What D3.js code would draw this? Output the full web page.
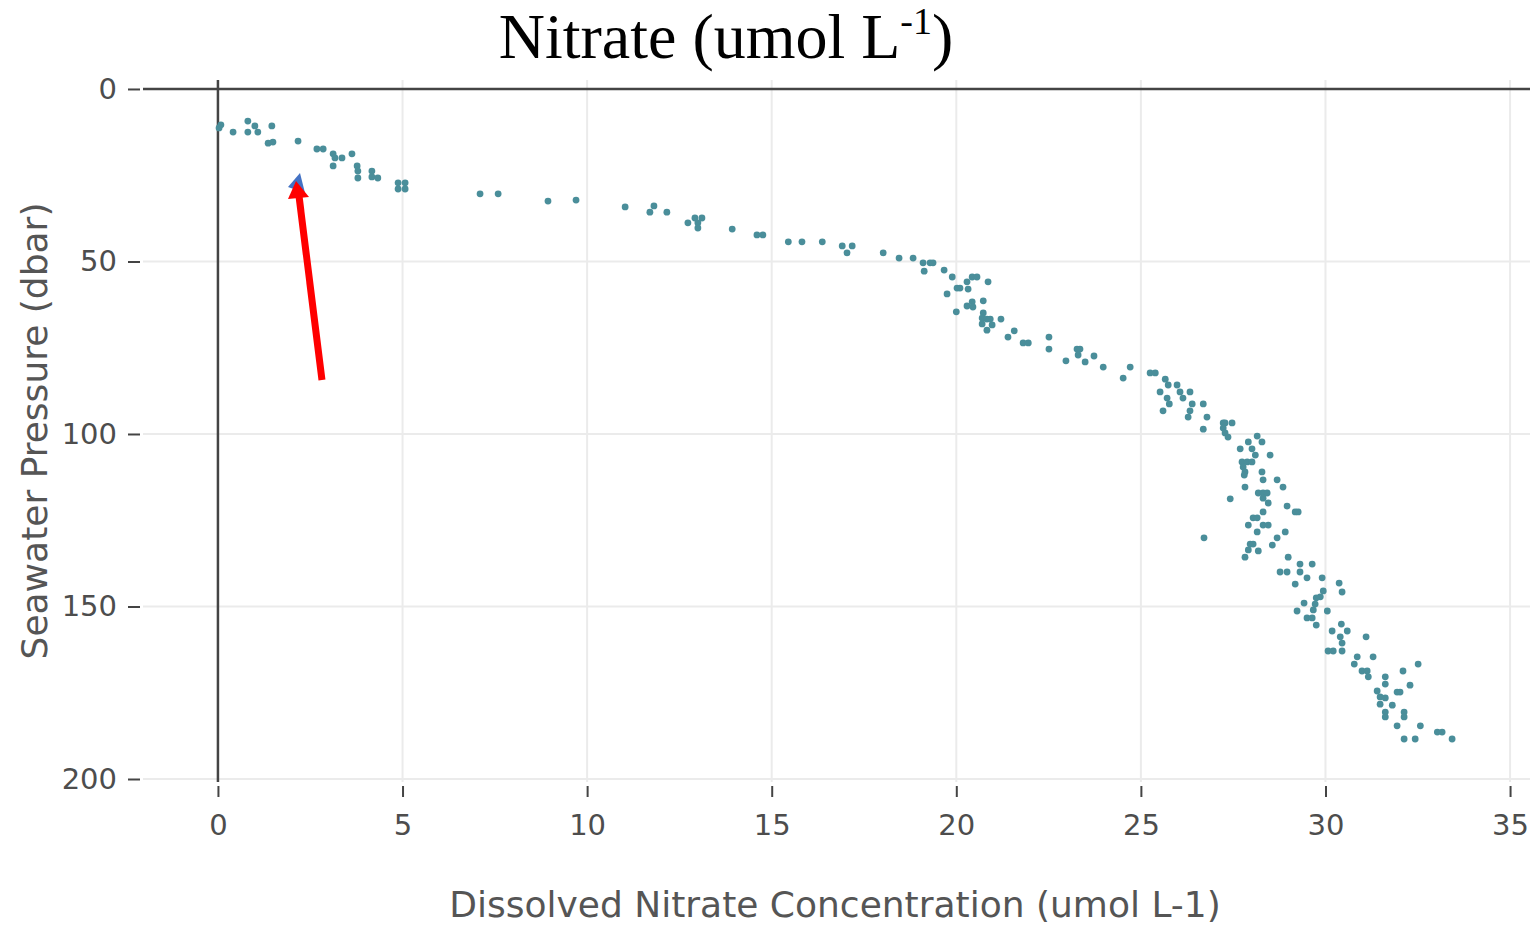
<!DOCTYPE html>
<html>
<head>
<meta charset="utf-8">
<script src="https://cdn.jsdelivr.net/npm/d3@7"></script>
<style>
html,body{margin:0;padding:0;background:#fff;}
svg{display:block;}
</style>
</head>
<body>
<svg id="chart" width="1538" height="927"></svg>
<script>
// Dissolved nitrate (umol L-1)
const nitrate = [
0.03,0.08,0.41,0.81,0.81,1.00,1.08,1.46,1.36,1.49,2.17,2.68,2.85,3.12,3.17,3.36,3.12,3.63,3.77,3.79,3.79,4.17,4.17,4.33,4.88,5.07,4.88,5.07,
7.10,7.59,8.94,9.70,11.03,11.70,11.81,12.16,12.73,12.92,13.11,13.00,13.00,13.93,14.60,14.76,15.45,15.82,16.37,16.91,17.18,17.04,
18.02,18.45,18.83,19.10,19.29,19.37,19.13,19.67,19.89,20.29,20.43,20.56,20.86,20.02,20.10,20.32,19.75,20.29,20.43,20.45,20.73,20.00,20.73,20.70,20.83,20.92,20.70,20.97,20.83,21.21,21.57,21.40,21.81,21.95,22.51,22.51,23.27,23.35,23.30,23.73,22.97,23.49,23.98,24.71,24.52,25.25,25.39,25.66,
25.74,25.98,25.52,26.06,26.33,25.71,26.14,25.77,26.39,26.69,25.60,26.33,26.28,26.79,26.69,
27.23,27.47,27.28,27.23,27.28,27.36,
28.15,28.28,27.91,27.69,28.01,28.10,28.50,
27.74,27.88,28.01,27.77,27.82,27.80,
28.28,28.31,28.69,28.85,27.82,
28.18,28.31,28.42,28.31,28.45,27.42,28.96,29.18,29.26,28.31,
28.04,28.15,27.91,28.31,28.45,28.15,28.91,
26.71,
27.96,28.04,27.91,28.18,28.56,28.69,27.82,
28.99,29.31,29.64,28.77,28.96,29.31,29.50,29.91,29.18,30.37,30.45,29.94,29.86,29.75,
29.42,29.72,29.67,29.23,30.05,29.50,29.64,29.75,
30.43,30.18,30.59,30.40,31.10,30.45,30.07,30.21,30.45,
30.86,31.29,30.78,30.99,31.13,31.16,31.62,31.62,32.10,32.51,
31.40,31.48,31.62,31.94,32.02,32.29,31.48,31.81,31.62,31.62,32.13,32.13,31.94,32.57,33.03,33.16,32.13,32.43,33.43
];
// Seawater pressure (dbar)
const pressure = [
11.3,10.4,12.5,9.3,12.5,10.7,12.5,10.7,15.7,15.4,15.1,17.4,17.4,18.8,20.0,20.0,22.3,18.8,22.3,23.8,25.8,23.8,25.5,25.8,27.2,27.2,29.0,29.0,
30.4,30.4,32.5,32.2,34.2,35.7,33.9,35.7,38.8,37.4,37.4,38.8,40.3,40.6,42.3,42.3,44.3,44.3,44.3,45.5,45.5,47.5,
47.5,49.0,49.0,50.4,50.4,50.4,52.8,52.5,54.5,55.9,54.5,54.5,55.9,57.7,57.7,58.0,59.4,62.9,61.7,63.2,61.4,64.6,64.9,66.4,66.7,66.7,68.1,68.4,69.9,66.7,70.1,71.9,73.6,73.6,71.9,75.4,75.4,75.4,77.1,77.4,78.8,79.1,80.6,80.6,83.8,82.3,82.3,84.1,
85.8,85.8,87.8,87.8,87.8,89.6,89.6,91.3,91.3,91.3,93.3,93.3,95.1,95.1,98.6,
96.8,96.8,96.8,98.3,99.7,100.9,
100.6,102.3,102.3,104.3,104.3,106.1,106.1,
108.1,108.1,108.1,109.6,111.0,111.9,
111.0,113.3,113.3,115.4,115.4,
117.1,117.1,117.1,118.6,120.0,118.8,120.9,122.6,122.6,122.6,
124.3,124.3,126.4,126.4,126.4,128.4,128.4,
130.1,
131.9,131.9,133.6,133.9,132.2,130.1,135.7,
135.7,137.7,137.7,140.0,140.0,140.0,141.7,141.7,143.5,143.2,145.8,145.5,147.2,147.5,
149.0,149.3,151.0,151.3,151.3,153.3,153.3,155.4,
155.1,157.1,157.1,158.8,158.8,160.6,162.9,162.9,162.9,
164.6,164.6,166.7,168.7,168.7,170.4,170.4,172.5,168.7,166.7,
174.5,176.2,176.5,174.8,174.8,172.8,178.3,178.6,180.6,182.0,180.6,182.0,184.6,184.6,186.4,186.4,188.4,188.4,188.4
];
const xTicks = [0,5,10,15,20,25,30,35];
const yTicks = [0,50,100,150,200];
const chartTitle = "Nitrate (umol L";
const chartTitleSup = "-1";
const xTitle = "Dissolved Nitrate Concentration (umol L-1)";
const yTitle = "Seawater Pressure (dbar)";

const svg = d3.select("#chart");
const plot = {left:143, right:1530, top:80, bottom:782};
const x = d3.scaleLinear().domain([-2.03, 35.54]).range([plot.left, plot.right]);
const y = d3.scaleLinear().domain([-2.6, 200.87]).range([plot.top, plot.bottom]);

const axisColor = "#444";
const labelColor = "#4d4d4d";
const gridColor = "#ebebeb";
const tickFont = "DejaVu Sans, Verdana, sans-serif";

// gridlines
const grid = svg.append("g");
grid.selectAll("line.gx").data(xTicks.filter(d=>d!==0)).join("line")
  .attr("x1", d=>x(d)).attr("x2", d=>x(d))
  .attr("y1", plot.top).attr("y2", plot.bottom)
  .attr("stroke", gridColor).attr("stroke-width", 2);
grid.selectAll("line.gy").data(yTicks.filter(d=>d!==0)).join("line")
  .attr("x1", plot.left).attr("x2", plot.right)
  .attr("y1", d=>y(d)).attr("y2", d=>y(d))
  .attr("stroke", gridColor).attr("stroke-width", 2);

// zero lines
svg.append("line").attr("x1", x(0)).attr("x2", x(0)).attr("y1", plot.top).attr("y2", plot.bottom)
  .attr("stroke", axisColor).attr("stroke-width", 2.5);
svg.append("line").attr("x1", plot.left).attr("x2", plot.right).attr("y1", y(0)).attr("y2", y(0))
  .attr("stroke", axisColor).attr("stroke-width", 2.5);

// axes via d3
const xAxis = d3.axisBottom(x).tickValues(xTicks).tickSize(11).tickPadding(17).tickFormat(d3.format("d"));
const gx = svg.append("g").attr("transform", `translate(0,${plot.bottom+4})`).call(xAxis);
gx.select(".domain").remove();
gx.selectAll(".tick line").attr("stroke", axisColor).attr("stroke-width", 2);
gx.selectAll(".tick text").attr("fill", labelColor).attr("font-family", tickFont).attr("font-size", 29);

const yAxis = d3.axisLeft(y).tickValues(yTicks).tickSize(12).tickPadding(11).tickFormat(d3.format("d"));
const gy = svg.append("g").attr("transform", `translate(${plot.left-3},0)`).call(yAxis);
gy.select(".domain").remove();
gy.selectAll(".tick line").attr("stroke", axisColor).attr("stroke-width", 2);
gy.selectAll(".tick text").attr("fill", labelColor).attr("font-family", tickFont).attr("font-size", 29);

// points
const pts = nitrate.map((v,i)=>({x:v, y:pressure[i]}));
svg.append("g").selectAll("circle").data(pts).join("circle")
  .attr("cx", d=>x(d.x)).attr("cy", d=>y(d.y)).attr("r", 3.4)
  .attr("fill", "#4a8e9a");

// axis titles
svg.append("text").attr("x", 835).attr("y", 917).attr("text-anchor","middle")
  .attr("font-family", tickFont).attr("font-size", 36).attr("fill", "#555").text(xTitle);
svg.append("text").attr("transform", "translate(47,431) rotate(-90)").attr("text-anchor","middle")
  .attr("font-family", tickFont).attr("font-size", 36).attr("fill", "#555").text(yTitle);

// main title
const t = svg.append("text").attr("x", 726).attr("y", 58).attr("text-anchor","middle")
  .attr("font-family", "Liberation Serif, Times New Roman, serif").attr("font-size", 64).attr("fill", "#000");
t.append("tspan").text(chartTitle);
t.append("tspan").attr("font-size", 38).attr("dy", -24).text(chartTitleSup);
t.append("tspan").attr("dy", 24).text(")");

// annotation arrow
const ann = svg.append("g");
ann.append("polygon").attr("points", "288,187 300,173 305,193").attr("fill", "#4472c4");
ann.append("line").attr("x1", 322).attr("y1", 380).attr("x2", 299).attr("y2", 196)
  .attr("stroke", "#ff0000").attr("stroke-width", 7);
ann.append("polygon").attr("points", "296,181 288,199 309,197").attr("fill", "#ff0000");
</script>
</body>
</html>
